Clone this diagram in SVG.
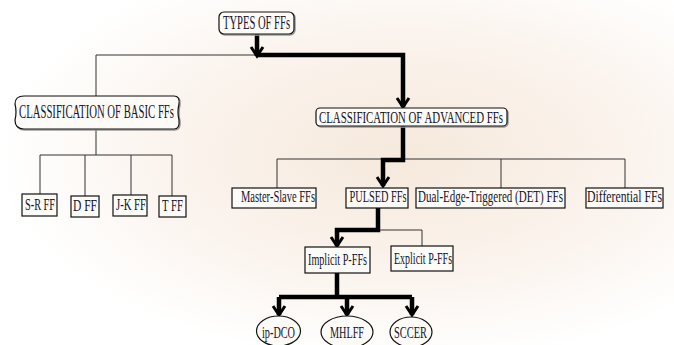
<svg xmlns="http://www.w3.org/2000/svg" width="674" height="345" viewBox="0 0 674 345">
<defs>
<radialGradient id="bg" cx="0.6" cy="0.45" r="0.6">
<stop offset="0" stop-color="#f6e9dc"/>
<stop offset="0.6" stop-color="#fbf4ee"/>
<stop offset="1" stop-color="#ffffff"/>
</radialGradient>
<marker id="v" markerUnits="userSpaceOnUse" markerWidth="20" markerHeight="20" refX="0" refY="0" orient="auto" overflow="visible">
<path d="M-9,-6 L0,0 L-9,6" fill="none" stroke="#000" stroke-width="3" stroke-linejoin="miter"/>
</marker>
</defs>
<style>
.t{font-family:"Liberation Serif","Times New Roman",serif;fill:#15152a;text-anchor:middle;font-size:16px}
.big{font-size:18px}
.box{fill:#fdfbf8;stroke:#111;stroke-width:1.2}
.sh{fill:none;stroke:#9a9a9a;stroke-width:1.5}
.thin{fill:none;stroke:#333;stroke-width:1}
.thick{fill:none;stroke:#000;stroke-width:4.5;stroke-linejoin:miter}
.arr{marker-end:url(#v)}
</style>
<rect width="674" height="345" fill="url(#bg)"/>
<g id="connectors">
<path class="thin" d="M257,55 H96 V96"/>
<path class="thin" d="M96,129 V155 M40,155 H172 M40,155 V194 M85,155 V196 M131,155 V195 M172,155 V196"/>
<path class="thin" d="M277,159 H625 M277,159 V188 M501,159 V188 M625,159 V188"/>
<path class="thin" d="M378,230 H422 V246"/>
<path class="thick arr" d="M257,34 V56"/>
<path class="thick arr" d="M257,55 H403 V107"/>
<path class="thick arr" d="M403,126 V160 H383 V186"/>
<path class="thick arr" d="M378,207 V230 H337 V246"/>
<path class="thick" d="M337,273 V297 M279,297 H412"/>
<path class="thick arr" d="M279,297 V315"/>
<path class="thick arr" d="M347,297 V315"/>
<path class="thick arr" d="M412,297 V315"/>
</g>
<g id="types">
<rect class="sh" x="220" y="13" width="75" height="22" rx="5"/>
<rect class="box" x="219" y="12" width="75" height="22" rx="5"/>
<text class="t big" transform="translate(256.5,28.5) scale(0.7,1)" x="0" y="0" textLength="95.7" lengthAdjust="spacingAndGlyphs">TYPES OF FFs</text>
</g>
<g id="basic">
<path class="sh" d="M25,97 H175 Q181,97 180,105 Q178,113 180,121 Q181,130 175,130 H25 Q16,130 16,121 Q18,113 16,105 Q16,97 25,97 Z"/>
<path class="box" d="M24,96 H174 Q180,96 179,104 Q177,112 179,120 Q180,129 174,129 H24 Q15,129 15,120 Q17,112 15,104 Q15,96 24,96 Z"/>
<text class="t big" transform="translate(96.5,117.5) scale(0.7,1)" x="0" y="0" textLength="221.4" lengthAdjust="spacingAndGlyphs">CLASSIFICATION OF BASIC FFs</text>
</g>
<g id="advanced">
<rect class="sh" x="317" y="109" width="191" height="18" rx="4"/>
<rect class="box" x="316" y="108" width="191" height="18" rx="4"/>
<text class="t" transform="translate(411,123) scale(0.7,1)" x="0" y="0" textLength="262.9" lengthAdjust="spacingAndGlyphs">CLASSIFICATION OF ADVANCED FFs</text>
</g>
<g id="srff">
<rect class="box" x="22" y="194" width="35" height="22"/>
<text class="t" transform="translate(40,210) scale(0.7,1)" x="0" y="0" textLength="42.9" lengthAdjust="spacingAndGlyphs">S-R FF</text>
</g>
<g id="dff">
<rect class="box" x="71" y="196" width="28" height="21"/>
<text class="t" transform="translate(85,211) scale(0.7,1)" x="0" y="0" textLength="34.3" lengthAdjust="spacingAndGlyphs">D FF</text>
</g>
<g id="jkff">
<rect class="box" x="113" y="195" width="34" height="21"/>
<text class="t" transform="translate(131,210) scale(0.7,1)" x="0" y="0" textLength="42.9" lengthAdjust="spacingAndGlyphs">J-K FF</text>
</g>
<g id="tff">
<rect class="box" x="159" y="196" width="27" height="21"/>
<text class="t" transform="translate(172.5,211) scale(0.7,1)" x="0" y="0" textLength="30" lengthAdjust="spacingAndGlyphs">T FF</text>
</g>
<g id="masterslave">
<rect class="box" x="232" y="188" width="84" height="20"/>
<text class="t" transform="translate(278,202) scale(0.7,1)" x="0" y="0" textLength="105.7" lengthAdjust="spacingAndGlyphs">Master-Slave FFs</text>
</g>
<g id="pulsed">
<rect class="box" x="346" y="188" width="62" height="20"/>
<text class="t" transform="translate(378,202) scale(0.7,1)" x="0" y="0" textLength="81.4" lengthAdjust="spacingAndGlyphs">PULSED FFs</text>
</g>
<g id="det">
<rect class="box" x="416" y="188" width="149" height="20"/>
<text class="t" transform="translate(490.5,202) scale(0.7,1)" x="0" y="0" textLength="207.1" lengthAdjust="spacingAndGlyphs">Dual-Edge-Triggered (DET) FFs</text>
</g>
<g id="differential">
<rect class="box" x="586" y="188" width="77" height="20"/>
<text class="t" transform="translate(624.5,202) scale(0.7,1)" x="0" y="0" textLength="107.1" lengthAdjust="spacingAndGlyphs">Differential FFs</text>
</g>
<g id="implicit">
<rect class="box" x="305" y="247" width="65" height="26"/>
<text class="t" transform="translate(337.5,265) scale(0.7,1)" x="0" y="0" textLength="84.3" lengthAdjust="spacingAndGlyphs">Implicit P-FFs</text>
</g>
<g id="explicit">
<rect class="box" x="391" y="246" width="62" height="25"/>
<text class="t" transform="translate(423,264) scale(0.7,1)" x="0" y="0" textLength="82.9" lengthAdjust="spacingAndGlyphs">Explicit P-FFs</text>
</g>
<g id="ipdco">
<ellipse class="box" cx="278.5" cy="331" rx="22" ry="15"/>
<text class="t" transform="translate(278.5,338) scale(0.7,1)" x="0" y="0" textLength="47.1" lengthAdjust="spacingAndGlyphs">ip-DCO</text>
</g>
<g id="mhlff">
<ellipse class="box" cx="347" cy="332" rx="26" ry="16"/>
<text class="t" transform="translate(347,338) scale(0.7,1)" x="0" y="0" textLength="48.6" lengthAdjust="spacingAndGlyphs">MHLFF</text>
</g>
<g id="sccer">
<ellipse class="box" cx="411" cy="332" rx="21" ry="15"/>
<text class="t" transform="translate(410.5,338) scale(0.7,1)" x="0" y="0" textLength="47.1" lengthAdjust="spacingAndGlyphs">SCCER</text>
</g>
</svg>
